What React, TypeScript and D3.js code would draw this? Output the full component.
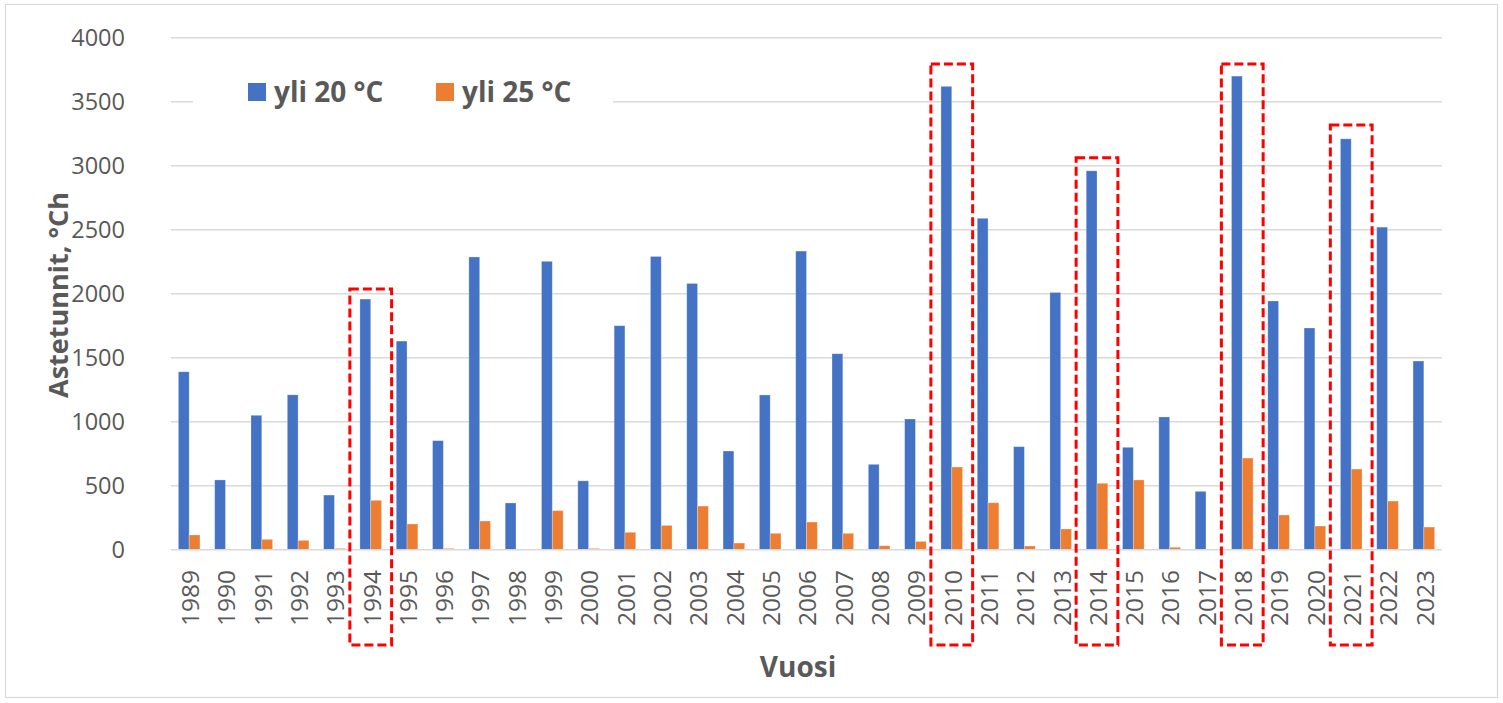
import React from 'react'
import * as d3 from 'd3'

// vuodet
const years = [
  '1989', '1990', '1991', '1992', '1993', '1994', '1995', '1996', '1997', '1998',
  '1999', '2000', '2001', '2002', '2003', '2004', '2005', '2006', '2007', '2008',
  '2009', '2010', '2011', '2012', '2013', '2014', '2015', '2016', '2017', '2018',
  '2019', '2020', '2021', '2022', '2023',
]

const over20 = [
  1390, 545, 1050, 1210, 427, 1958, 1630, 852, 2287, 365,
  2253, 538, 1750, 2291, 2080, 771, 1209, 2333, 1531, 667,
  1021, 3620, 2589, 805, 2010, 2960, 800, 1037, 456, 3700,
  1943, 1732, 3210, 2520, 1474,
]

const over25 = [
  115, 0, 81, 73, 10, 386, 201, 10, 224, 0,
  305, 10, 136, 190, 341, 52, 128, 216, 128, 31,
  65, 646, 367, 29, 162, 519, 545, 19, 0, 716,
  271, 185, 630, 380, 177,
]

const seriesNames = ['yli 20 °C', 'yli 25 °C']
const seriesColors = ['#4472C4', '#ED7D31']
const yTicks = [0, 500, 1000, 1500, 2000, 2500, 3000, 3500, 4000]

// korostetut vuodet ja laatikon yläreunan arvo
const highlightYears = ['1994', '2010', '2014', '2018', '2021']
const highlightTops = [2037, 3795, 3062, 3795, 3318]

const W = 1503
const H = 703
const left = 171
const right = 1442
const top = 37.7
const bottom = 549.7
const grey = '#595959'
const font = '"Open Sans", "Noto Sans", sans-serif'

const App = () => {
  const x0 = d3.scaleBand<string>()
    .domain(years)
    .range([left, right])
    .paddingInner(0.405)
    .paddingOuter(0.2025)

  const x1 = d3.scaleBand<string>()
    .domain(seriesNames)
    .range([0, x0.bandwidth()])

  const y = d3.scaleLinear()
    .domain([0, 4000])
    .range([bottom, top])

  const series = [over20, over25]
  const step = x0.step()

  return (
    <svg width={W} height={H} style={{position: 'absolute', left: 0, top: 0}} fontFamily={font}>
      <rect x={0} y={0} width={W} height={H} fill="#fff" />
      <rect x={5.5} y={4.5} width={1492} height={693} fill="none" stroke="#d9d9d9" strokeWidth={1.2} />

      {yTicks.map(t => (
        <g key={t}>
          {t > 0 && <line x1={left} x2={right} y1={y(t)} y2={y(t)} stroke="#d9d9d9" strokeWidth={1.4} />}
          <text x={125} y={y(t)} dy="0.36em" textAnchor="end" fontSize={23.5} fill={grey}>{t}</text>
        </g>
      ))}

      {series.map((vals, si) => (
        <g key={si} fill={seriesColors[si]}>
          {vals.map((v, i) => v > 0 && (
            <rect
              key={years[i]}
              x={(x0(years[i]) as number) + (x1(seriesNames[si]) as number)}
              y={y(v)}
              width={x1.bandwidth()}
              height={bottom - y(v)}
              stroke="rgba(255,255,255,0.35)"
              strokeWidth={0.8}
            />
          ))}
        </g>
      ))}

      <line x1={left} x2={right} y1={bottom} y2={bottom} stroke="#d9d9d9" strokeWidth={1.6} />

      {years.map(yr => {
        const cx = (x0(yr) as number) + x0.bandwidth() / 2 + 1
        return (
          <text key={yr} transform={`translate(${cx},570) rotate(-90)`} dy="0.36em"
            textAnchor="end" fontSize={24.5} fill={grey}>{yr}</text>
        )
      })}

      {highlightYears.map((yr, i) => {
        const cx = (x0(yr) as number) + x0.bandwidth() / 2
        const half = step * 0.575
        return (
          <rect key={yr} x={cx - half} y={y(highlightTops[i])} width={half * 2}
            height={645 - y(highlightTops[i])} fill="none" stroke="#FF0000"
            strokeWidth={3} strokeDasharray="9 4" />
        )
      })}

      <g>
        <rect x={193} y={62} width={420} height={66} fill="#fff" />
        {seriesNames.map((name, i) => (
          <g key={name} transform={`translate(${248 + i * 188},0)`}>
            <rect x={0} y={83} width={18} height={18} fill={seriesColors[i]} />
            <text x={26} y={102} fontSize={28} fontWeight="bold" fill={grey}>{name}</text>
          </g>
        ))}
      </g>

      <text transform={`translate(68,295) rotate(-90)`} textAnchor="middle" fontSize={27}
        fontWeight="bold" fill={grey}>Astetunnit, °Ch</text>
      <text x={798} y={677} textAnchor="middle" fontSize={28} fontWeight="bold" fill={grey}>Vuosi</text>
    </svg>
  )
}

export default App
